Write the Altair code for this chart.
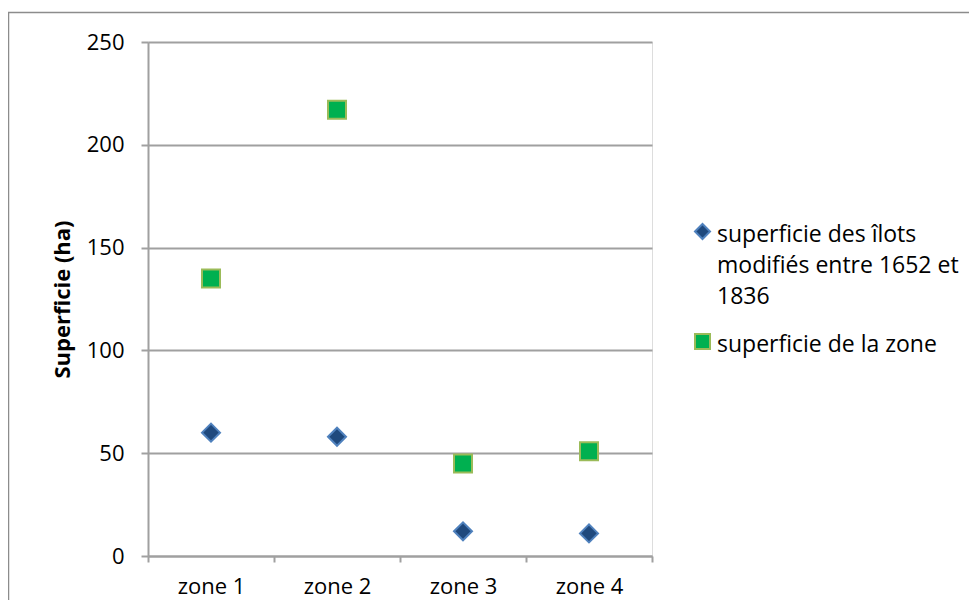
import altair as alt
import pandas as pd

zones = ["zone 1", "zone 2", "zone 3", "zone 4"]
series_names = [
    "superficie des îlots modifiés entre 1652 et 1836",
    "superficie de la zone",
]
ilots_values = [60, 58, 12, 11]
zone_values = [135, 217, 45, 51]
y_ticks = [0, 50, 100, 150, 200, 250]

fill_colors = ["#1F497D", "#00B050"]
stroke_colors = ["#4F81BD", "#9BBB59"]
shapes = ["diamond", "square"]

rows = []
for z, v in zip(zones, ilots_values):
    rows.append({"zone": z, "series": series_names[0], "value": v})
for z, v in zip(zones, zone_values):
    rows.append({"zone": z, "series": series_names[1], "value": v})
df = pd.DataFrame(rows)

FONT = "Open Sans"
GRID = "#A0A0A0"
DY = -8

label_expr = (
    "datum.label == '" + series_names[0] + "' ? "
    "['superficie des îlots', 'modifiés entre 1652 et', '1836'] : datum.label"
)

legend = alt.Legend(
    title=None,
    orient="none",
    legendX=543,
    legendY=178,
    labelExpr=label_expr,
    labelFont=FONT,
    labelFontSize=23,
    labelColor="#000000",
    labelLimit=0,
    labelBaseline="top",
    labelOffset=3,
    symbolSize=225,
    symbolStrokeWidth=2,
    rowPadding=21,
    padding=0,
)

points = alt.Chart(df).mark_point(filled=True, size=324, strokeWidth=2, opacity=1).encode(
    x=alt.X(
        "zone:N",
        sort=zones,
        scale=alt.Scale(type="band", paddingInner=0, paddingOuter=0),
        axis=alt.Axis(
            title=None,
            labelAngle=0,
            tickBand="extent",
            labelFont=FONT,
            labelFontSize=22,
            labelColor="#000000",
            labelPadding=14 - DY,
            tickSize=6,
            tickColor=GRID,
            domainColor=GRID,
            domainWidth=2,
            tickWidth=2,
            grid=False,
        ),
    ),
    y=alt.Y(
        "value:Q",
        scale=alt.Scale(domain=[0, 250], nice=False),
        axis=alt.Axis(
            title="Superficie (ha)",
            titleFont=FONT,
            titleFontSize=22,
            titleFontWeight="bold",
            titleColor="#000000",
            titlePadding=12,
            values=y_ticks,
            labelFont=FONT,
            labelFontSize=22,
            labelColor="#000000",
            labelPadding=17,
            labelOffset=-DY,
            tickSize=7,
            tickColor=GRID,
            tickWidth=2,
            domainColor=GRID,
            domainWidth=2,
            gridColor=GRID,
            gridWidth=2,
        ),
    ),
    shape=alt.Shape("series:N", sort=series_names,
                    scale=alt.Scale(domain=series_names, range=shapes), legend=legend),
    fill=alt.Fill("series:N", sort=series_names,
                  scale=alt.Scale(domain=series_names, range=fill_colors), legend=legend),
    stroke=alt.Stroke("series:N", sort=series_names,
                      scale=alt.Scale(domain=series_names, range=stroke_colors), legend=legend),
)

frame = alt.Chart(alt.Data(values=[{}])).mark_rect(
    fill="transparent", stroke="#8C8C8C", strokeWidth=1.5
).encode(
    x=alt.value(-139.5),
    x2=alt.value(504 + 317 + 10),
    y=alt.value(-29.5),
    y2=alt.value(514 + 44 + 10),
)

chart = alt.layer(frame, points).properties(
    width=504,
    height=514,
    autosize=alt.AutoSizeParams(type="none"),
    padding={"left": 140, "top": 34, "right": 317, "bottom": 44},
).configure_view(stroke=None).configure(
    background="white",
    style={"guide-label": {"dy": DY, "lineHeight": 31}},
)

chart.save("out.html", embed_options={"renderer": "svg", "actions": False})
